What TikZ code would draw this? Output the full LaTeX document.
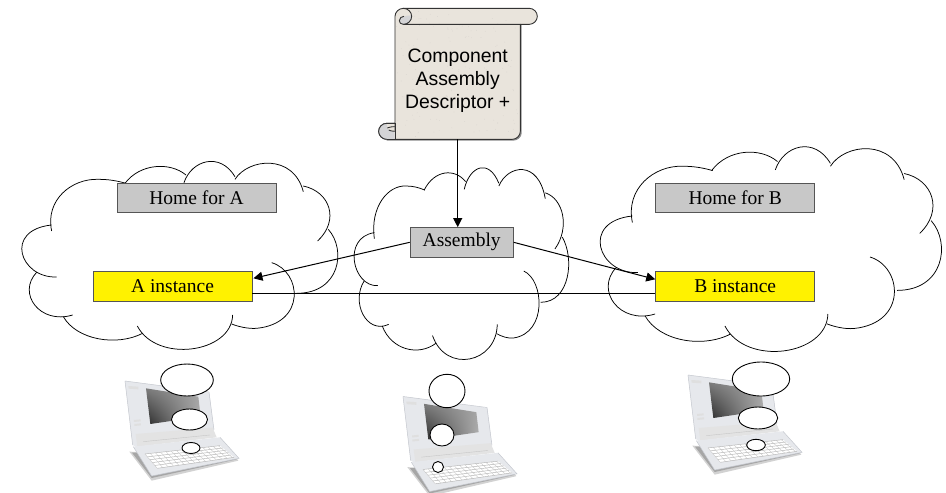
\documentclass[tikz,border=0pt]{standalone}
\usepackage{fontspec}
\setmainfont{Liberation Serif}
\newfontfamily\scrollfont{Liberation Sans}
\usetikzlibrary{arrows.meta,calc,shadings,shapes.geometric}
\definecolor{boxgray}{HTML}{C8C8C8}
\definecolor{boxedge}{HTML}{555555}
\definecolor{parch}{HTML}{E9E4DC}
\definecolor{curl}{HTML}{D4D4D6}
\definecolor{lidcol}{HTML}{E6E8EC}
\definecolor{lidedge}{HTML}{C4C7CE}
\tikzset{
  compbox/.style={draw=boxedge,line width=0.9pt,fill=boxgray,minimum width=159pt,minimum height=29.5pt,inner sep=0pt,font=\fontsize{19.5}{23}\selectfont},
  instbox/.style={compbox,fill=yellow},
  asmbox/.style={compbox,minimum width=103pt},
  cloudline/.style={draw=black,line width=0.75pt},
  conn/.style={draw=black,line width=1pt},
  arrowconn/.style={conn,-{Triangle[length=9pt,width=9pt]}},
  bubble/.style={draw=black,fill=white,line width=0.9pt,ellipse,inner sep=0pt},
  scrollline/.style={draw=black!80,line width=0.9pt,line join=round},
}
\newcommand{\cloudlobes}{%
  \draw[cloudline] (155,243) .. controls (135,150) and (215,85) .. (295,88) .. controls (325,88) and (350,92) .. (378,100);
  \draw[cloudline] (375,100) .. controls (420,40) and (510,35) .. (558,75);
  \draw[cloudline] (552,98) .. controls (575,30) and (660,5) .. (705,80);
  \draw[cloudline] (705,88) .. controls (745,25) and (880,10) .. (910,125);
  \draw[cloudline] (910,108) .. controls (990,125) and (1020,210) .. (953,273);
  \draw[cloudline] (985,238) .. controls (1040,300) and (1020,430) .. (890,430);
  \draw[cloudline] (815,338) .. controls (905,365) and (920,520) .. (770,535) .. controls (745,537) and (715,530) .. (695,522);
  \draw[cloudline] (698,495) .. controls (695,610) and (470,640) .. (412,528);
  \draw[cloudline] (428,550) .. controls (350,590) and (230,570) .. (190,500);
  \draw[cloudline] (218,495) .. controls (120,525) and (50,430) .. (110,367);
  \draw[cloudline] (170,381) .. controls (60,385) and (10,240) .. (155,225);
}
\newcommand{\laptop}[2]{%
  \begin{scope}[shift={(#1,#2)},scale=0.3333]
    \fill[gray!35] (58,305) -- (125,392) -- (385,332) -- (375,318) -- cycle;
    \fill[gray!70] (66,308) -- (125,384) -- (380,328) -- (360,310) -- cycle;
    \fill[lidcol] (45,93) -- (285,125) -- (298,128) -- (312,240) -- (80,292) -- (68,285) -- cycle;
    \draw[lidedge,line width=0.5pt] (45,93) -- (297,126) -- (312,240);
    \draw[lidedge,line width=0.5pt] (45,93) -- (68,285);
    \fill[gray!25] (55,108) -- (85,110) -- (85,118) -- (56,116) -- cycle;
    \fill[gray!25] (72,210) -- (92,208) -- (92,214) -- (72,216) -- cycle;
    \fill[gray!25] (73,222) -- (93,220) -- (93,226) -- (73,228) -- cycle;
    \begin{scope}
      \clip (108,115) -- (265,140) -- (272,200) -- (121,222) -- cycle;
      \shade[upper left=black!50,upper right=black!35,lower left=black!85,lower right=black!30] (105,110) rectangle (275,225);
    \end{scope}
    \fill[gray!22] (77,252) -- (308,233) -- (320,262) -- (82,290) -- cycle;
    \draw[gray!45,line width=0.4pt] (100,275) -- (300,255);
    \fill[lidcol] (70,290) -- (330,262) -- (387,325) -- (125,378) -- cycle;
    \draw[lidedge,line width=0.5pt] (70,290) -- (125,378) -- (387,325) -- (330,262);
    \coordinate (ka) at (105,312);
    \coordinate (kb) at (330,287);
    \coordinate (kc) at (372,322);
    \coordinate (kd) at (142,355);
    \fill[white] (ka) -- (kb) -- (kc) -- (kd) -- cycle;
    \foreach \t in {0,0.2,0.4,0.6,0.8,1}
      \draw[gray!60,line width=0.45pt] ($(ka)!\t!(kd)$) -- ($(kb)!\t!(kc)$);
    \foreach \t in {0,0.07,...,1.01}
      \draw[gray!45,line width=0.35pt] ($(ka)!\t!(kb)$) -- ($(kd)!\t!(kc)$);
  \end{scope}%
}
\begin{document}
\begin{tikzpicture}[x=1pt,y=-1pt]
  \useasboundingbox (0,0) rectangle (946,493);
  \fill[white] (0,0) rectangle (946,493);

  % clouds
  \begin{scope}[shift={(0,150)},scale=0.3333]\cloudlobes\end{scope}
  \begin{scope}[shift={(339.3,156.1)},xscale=0.2263,yscale=0.34]\cloudlobes\end{scope}
  \begin{scope}[shift={(576.6,134.3)},xscale=0.36,yscale=0.363]\cloudlobes\end{scope}

  % laptops
  \laptop{110}{350}
  \laptop{388}{365.5}
  \laptop{673}{344}

  % bubbles
  \node[bubble,minimum width=52.6pt,minimum height=32pt] (la) at (187,380) {};
  \node[bubble,minimum width=36pt,minimum height=21pt] (lb) at (189.5,419.5) {};
  \node[bubble,minimum width=18pt,minimum height=11pt] (lc) at (191,448) {};
  \node[bubble,minimum width=36pt,minimum height=33.4pt] (ca) at (447,391) {};
  \node[bubble,minimum width=24pt,minimum height=22pt] (cb) at (442,435) {};
  \node[bubble,minimum width=11pt,minimum height=11pt] (cc) at (438,467) {};
  \node[bubble,minimum width=57.4pt,minimum height=34pt] (ra) at (761,379) {};
  \node[bubble,minimum width=39.4pt,minimum height=22pt] (rb) at (758,418) {};
  \node[bubble,minimum width=18.6pt,minimum height=11.4pt] (rc) at (756,445) {};

  % scroll (drawn in zoomed coordinates)
  \begin{scope}[shift={(360,0)},scale=0.3333]
    \fill[black!45] (109,60) -- (485,60) -- (485,400) .. controls (485,412) and (472,422) .. (460,422) -- (80,422) -- (80,400) -- (109,400) -- cycle;
    \path[fill=parch,scrollline] (105,394) -- (105,49) .. controls (105,36) and (117,25) .. (130,25) -- (508,25) .. controls (521,25) and (532,36) .. (532,49) .. controls (532,62) and (521,73) .. (508,73) -- (481,73) -- (481,394) .. controls (481,407) and (470,418) .. (457,418) -- (80,418) .. controls (67,418) and (56,407) .. (56,394) .. controls (56,381) and (67,370) .. (80,370) -- (105,370) -- cycle;
    \begin{scope}
      \clip (107,27) -- (530,27) -- (530,71) -- (479,71) -- (479,400) -- (107,416) -- cycle;
      \pgfmathsetseed{7}
      \foreach \i in {1,...,160}
        \fill[black!28,opacity=.4] ({110+rnd*365},{30+rnd*380}) circle[radius=1.1];
    \end{scope}
    \path[fill=curl] (118,62) .. controls (118,53) and (135,46) .. (155,46) -- (155,49) .. controls (155,62) and (144,73) .. (130,73) .. controls (123,73) and (118,68) .. (118,62) -- cycle;
    \draw[scrollline] (130,25) .. controls (144,25) and (155,36) .. (155,49) .. controls (155,62) and (144,73) .. (130,73) -- (481,73);
    \draw[scrollline] (130,73) .. controls (122,73) and (118,68) .. (118,62) .. controls (118,54) and (125,49) .. (132,49);
    \path[fill=curl] (80,370) .. controls (67,370) and (56,381) .. (56,394) .. controls (56,407) and (67,418) .. (80,418) -- (104,418) -- (104,394) .. controls (95,394) and (84,392) .. (82,384) -- cycle;
    \draw[scrollline] (105,370) -- (80,370) .. controls (67,370) and (56,381) .. (56,394) .. controls (56,407) and (67,418) .. (80,418);
    \draw[scrollline] (105,418) -- (105,370);
    \draw[scrollline] (80,418) -- (105,418);
    \draw[scrollline] (82,384) .. controls (92,380) and (100,380) .. (104,380);
    \draw[scrollline] (104,394) .. controls (96,394) and (90,392) .. (86,390);
  \end{scope}

  % labelled nodes
  \node[minimum width=125pt,minimum height=116pt,inner sep=0pt,align=center,font=\scrollfont\fontsize{19.4}{23}\selectfont] (desc) at (457.7,81) {Component\\Assembly\\Descriptor +};
  \node[compbox] (homea) at (196.5,198) {\raisebox{-0.8pt}{Home for A}};
  \node[instbox] (ainst) at (172.5,286.3) {\raisebox{-0.8pt}{A instance}};
  \node[compbox] (homeb) at (735.2,198) {\raisebox{-0.8pt}{Home for B}};
  \node[instbox] (binst) at (735.2,286.3) {\raisebox{-0.8pt}{B instance}};
  \node[asmbox] (asm) at (461.7,242.3) {\raisebox{-0.8pt}{Assembly}};

  % connectors
  \draw[arrowconn] (desc.south) -- (desc.south |- asm.north);
  \draw[arrowconn] (asm.west) -- ([yshift=8pt,xshift=1pt]ainst.east);
  \draw[arrowconn] (asm.east) -- ([yshift=7pt]binst.west);
  \draw[conn] ([yshift=-7pt]ainst.east) -- ([yshift=-7pt]binst.west);
\end{tikzpicture}
\end{document}
